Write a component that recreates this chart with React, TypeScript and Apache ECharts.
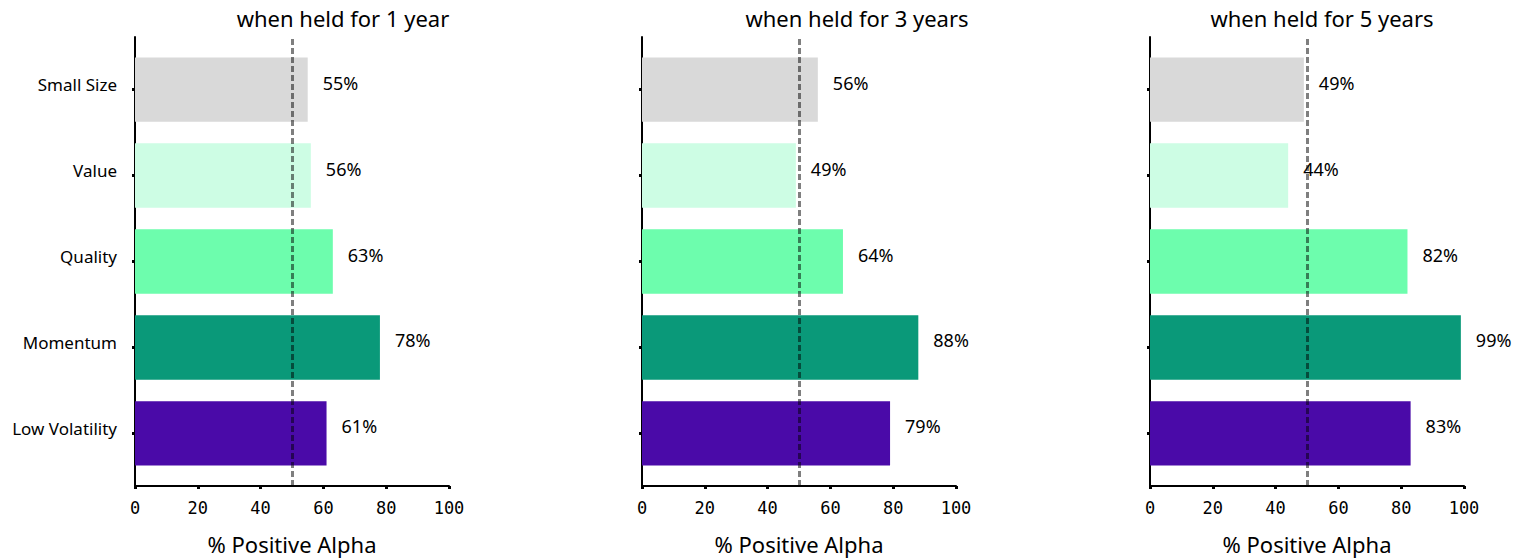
import React, { useEffect, useRef } from "react";
import * as echarts from "echarts";

const categories = ["Small Size", "Value", "Quality", "Momentum", "Low Volatility"];
const colors = ["#d9d9d9", "#cdfde4", "#6dfdad", "#0a9979", "#4a0aa8"];
const held1 = [55, 56, 63, 78, 61];
const held3 = [56, 49, 64, 88, 79];
const held5 = [49, 44, 82, 99, 83];
const titles = ["when held for 1 year", "when held for 3 years", "when held for 5 years"];
const xTicks = [0, 20, 40, 60, 80, 100];
const threshold = 50;

const panels = [held1, held3, held5];
const lefts = [135, 642, 1150];
const titleX = [343, 857, 1322];
const W = 314;
const TOP = 37;
const H = 449;
const unit = H / 5.225;
const innerTop = TOP + 0.1125 * unit;
const innerH = 5 * unit;
const FONT = "'Noto Sans', sans-serif";

export default function App() {
  const ref = useRef<HTMLDivElement>(null);
  useEffect(() => {
    const chart = echarts.init(ref.current!, undefined, { renderer: "svg" });
    const grid: any[] = [];
    const xAxis: any[] = [];
    const yAxis: any[] = [];
    const series: any[] = [];
    const graphic: any[] = [];
    panels.forEach((vals, p) => {
      const left = lefts[p];
      grid.push({ left, top: TOP, width: W, height: H, outerBoundsMode: "none", containLabel: false });
      grid.push({ left, top: innerTop, width: W, height: innerH, outerBoundsMode: "none", containLabel: false });
      const gA = p * 2;
      const gB = p * 2 + 1;
      xAxis.push({
        gridIndex: gA,
        type: "value",
        min: 0,
        max: 100,
        interval: 20,
        axisLine: { show: true, onZero: false, lineStyle: { color: "#000", width: 2 } },
        axisTick: { show: true, length: 3, lineStyle: { color: "#000", width: 3 } },
        axisLabel: {
          color: "#000",
          fontFamily: "'DejaVu Sans Mono', monospace",
          fontSize: 17,
          margin: 13,
          formatter: (v: number) => (xTicks.includes(v) ? String(v) : ""),
        },
        splitLine: { show: false },
        name: "% Positive Alpha",
        nameLocation: "middle",
        nameGap: 46,
        nameTextStyle: { color: "#000", fontFamily: FONT, fontSize: 22, lineHeight: 24 },
      });
      xAxis.push({
        gridIndex: gB,
        type: "value",
        min: 0,
        max: 100,
        show: false,
      });
      yAxis.push({
        gridIndex: gA,
        type: "value",
        min: 0,
        max: 1,
        axisLine: { show: true, onZero: false, lineStyle: { color: "#000", width: 2 } },
        axisTick: { show: false },
        axisLabel: { show: false },
        splitLine: { show: false },
      });
      yAxis.push({
        gridIndex: gB,
        type: "category",
        inverse: true,
        data: categories,
        axisLine: { show: false },
        axisTick: { show: true, alignWithLabel: true, length: 3, lineStyle: { color: "#000", width: 3 } },
        axisLabel: {
          show: p === 0,
          color: "#000",
          fontFamily: FONT,
          fontSize: 17,
          margin: 18,
          verticalAlign: "bottom",
          lineHeight: 10,
        },
      });
      series.push({
        type: "bar",
        xAxisIndex: gB,
        yAxisIndex: gB,
        barWidth: 0.75 * unit,
        z: 2,
        data: vals.map((v, i) => ({ value: v, itemStyle: { color: colors[i] } })),
        label: {
          show: true,
          position: "right",
          distance: 15,
          offset: [0, -7],
          formatter: "{c}%",
          color: "#000",
          fontFamily: FONT,
          fontSize: 18,
        },
      });
      series.push({
        type: "line",
        xAxisIndex: gA,
        yAxisIndex: gA,
        data: [],
        z: 10,
        markLine: {
          silent: true,
          symbol: "none",
          label: { show: false },
          lineStyle: { color: "rgba(0,0,0,0.5)", width: 3, type: [6, 3] },
          data: [{ xAxis: threshold }],
        },
      });
      graphic.push({
        type: "text",
        x: titleX[p],
        y: 18,
        style: {
          text: titles[p],
          textAlign: "center",
          textVerticalAlign: "middle",
          fill: "#000",
          font: `22px ${FONT}`,
        },
      });
    });
    chart.setOption({
      animation: false,
      backgroundColor: "#fff",
      grid,
      xAxis,
      yAxis,
      series,
      graphic,
    });
    return () => chart.dispose();
  }, []);
  return (
    <div
      ref={ref}
      style={{ position: "fixed", left: 0, top: 0, width: 1524, height: 559 }}
    />
  );
}
